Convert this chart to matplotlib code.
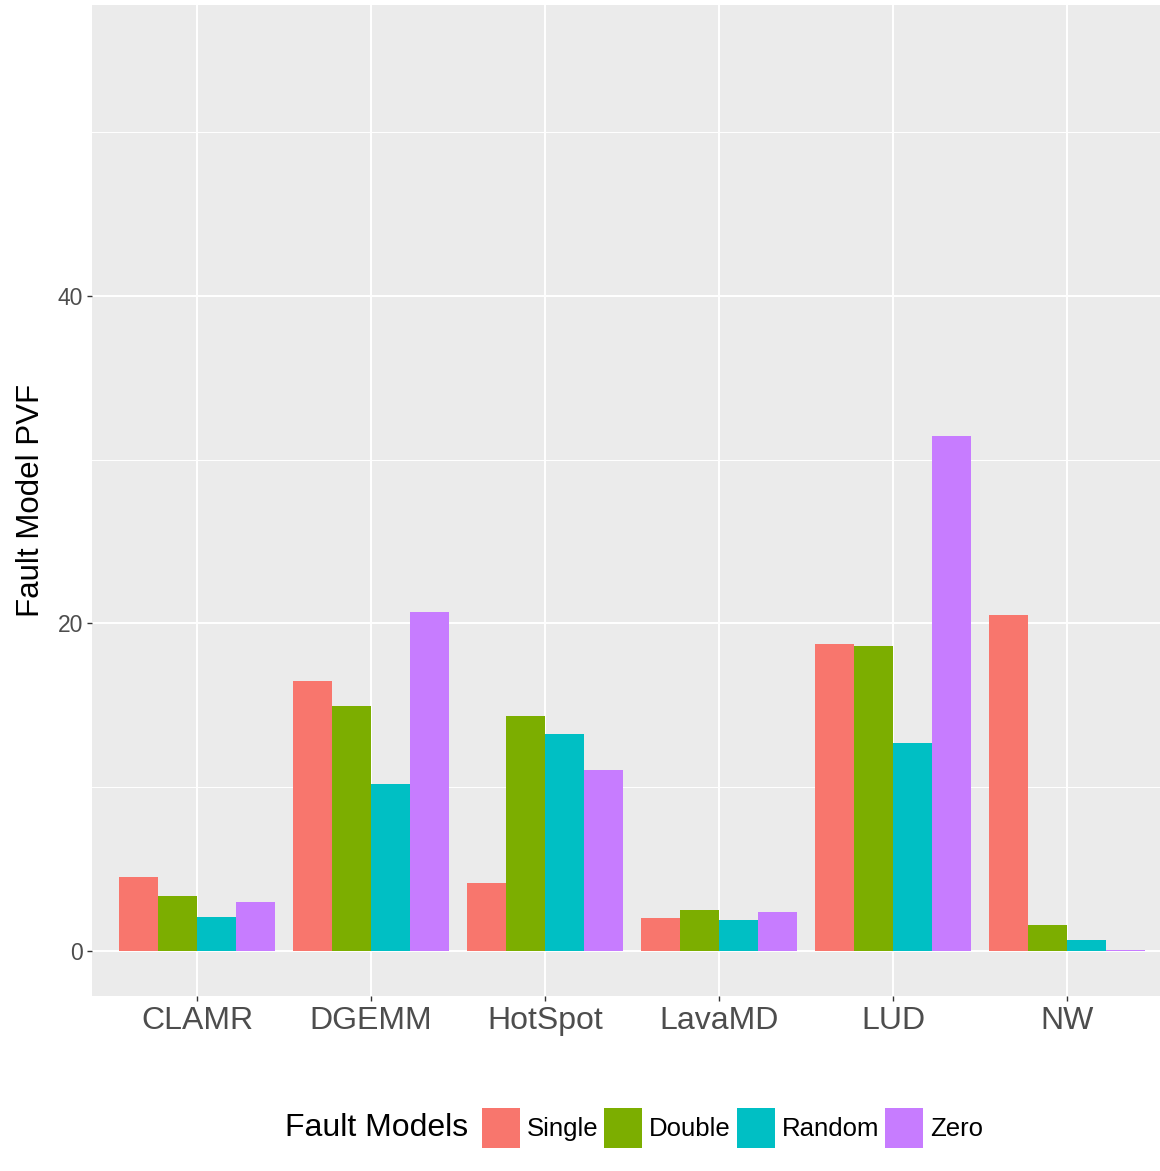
import numpy as np
import matplotlib
matplotlib.use('Agg')
import matplotlib.pyplot as plt
from matplotlib.ticker import MultipleLocator

plt.rcParams['font.family'] = ['Liberation Sans', 'DejaVu Sans']

# data
benchmarks = ['CLAMR', 'DGEMM', 'HotSpot', 'LavaMD', 'LUD', 'NW']
models = ['Single', 'Double', 'Random', 'Zero']
single = [4.52, 16.49, 4.15, 2.02, 18.75, 20.52]
double = [3.36, 14.96, 14.35, 2.50, 18.63, 1.59]
random_ = [2.08, 10.20, 13.25, 1.89, 12.70, 0.67]
zero = [2.99, 20.70, 11.05, 2.38, 31.45, 0.05]
colors = ['#F8766D', '#7CAE00', '#00BFC4', '#C77CFF']

series = [single, double, random_, zero]

fig = plt.figure(figsize=(11.6, 11.71), dpi=100)
ax = fig.add_axes([92/1160, 1-996/1171, 1-92/1160, (996-5)/1171])
ax.set_facecolor('#EBEBEB')

x = np.arange(len(benchmarks))
w = 0.9 / len(models)
bars = []
for i, (vals, c) in enumerate(zip(series, colors)):
    b = ax.bar(x - 0.45 + w/2 + i*w, vals, width=w, color=c, linewidth=0, zorder=3)
    bars.append(b)

ax.set_xlim(-0.603, 5.534)
ax.set_ylim(-2.75, 57.77)
ax.set_xticks(x)
ax.set_xticklabels(benchmarks)
ax.yaxis.set_major_locator(MultipleLocator(20))
ax.yaxis.set_minor_locator(MultipleLocator(10))
ax.grid(which='major', color='white', linewidth=1.4, zorder=0)
ax.grid(which='minor', axis='y', color='white', linewidth=0.7, zorder=0)
ax.set_axisbelow(True)
for s in ax.spines.values():
    s.set_visible(False)
ax.tick_params(axis='x', labelsize=23, colors='#333333', labelcolor='#4D4D4D',
               length=3.5, width=1, pad=4)
ax.tick_params(axis='y', labelsize=16.5, colors='#333333', labelcolor='#4D4D4D',
               length=3.5, width=1, pad=3)
ax.tick_params(which='minor', length=0)
ax.set_ylabel('Fault Model PVF', fontsize=22.5, labelpad=8)

# legend at bottom, title on the left
fig.text(285/1160, 1-1128/1171, 'Fault Models', fontsize=23, ha='left', va='center')
leg = fig.legend(bars, models, loc='center left',
                 bbox_to_anchor=(482/1160, 1-1128/1171), ncol=4, frameon=False,
                 fontsize=18.5, borderpad=0, handlelength=1.48, handleheight=1.96,
                 handletextpad=0.27, columnspacing=0.22, borderaxespad=0)

fig.savefig('out.png', dpi=100)
